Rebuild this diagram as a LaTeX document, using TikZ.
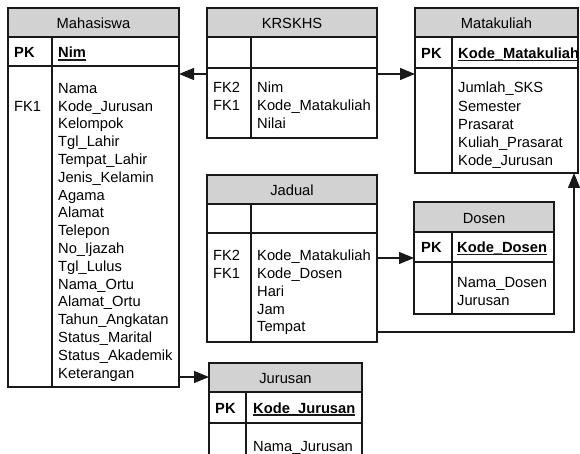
\documentclass[tikz,border=0pt]{standalone}
\usepackage{fontspec}
\setmainfont{Liberation Sans}
\usetikzlibrary{arrows.meta,fit}

\definecolor{hdrgray}{RGB}{210,210,210}
\definecolor{ink}{RGB}{25,25,25}

\newcommand\tablefont{\fontsize{14.7}{17.8}\selectfont}
% bold key name with an underline sitting just under the baseline
\newcommand\keyname[1]{\setbox0\hbox{\bfseries #1}\rlap{\color{ink}\vrule height -1.4pt depth 2.7pt width \wd0}\box0}

\tikzset{
  frame/.style={draw=ink, line width=1.2pt},
  hdr/.style={frame, fill=hdrgray},
  title/.style={anchor=base, inner sep=0pt, font=\tablefont},
  fld/.style={anchor=base west, inner sep=0pt, font=\tablefont},
  tblarea/.style={inner sep=0pt, outer sep=0pt},
  conn/.style={draw=ink, line width=1.2pt, -{Triangle[length=15pt,width=12pt]}},
}

% #1 name, #2 left, #3 right, #4 divider x, #5 top, #6 header bottom,
% #7 key row bottom, #8 bottom, #9 title
\newcommand\ertable[9]{%
  \node[tblarea, fit={(#2,#5) (#3,#8)}] (#1) {};
  \draw[frame, fill=white] (#2,#6) rectangle (#3,#8);
  \draw[hdr] (#2,#5) rectangle (#3,#6);
  \draw[frame] (#2,#7) -- (#3,#7);
  \draw[frame] (#4,#6) -- (#4,#8);
  \node[title] (#1-title) at ({(#2+#3)/2},{(#5+#6)/2+6.3}) {#9};
}

% #1 prefix, #2 x, #3 first baseline, #4 line step, #5 list of lines
\newcommand\fieldlist[5]{%
  \foreach \t [count=\i] in {#5}
    \node[fld] (#1-\i) at (#2,{#3+(\i-1)*#4}) {\t};
}

\begin{document}
\begin{tikzpicture}[x=1pt, y=-1pt]
\useasboundingbox (0,0) rectangle (580,454);

% ---------- Mahasiswa ----------
\ertable{maha}{8}{179}{52}{8}{37}{66}{387}{Mahasiswa}
\node[fld] (maha-pk) at (14,58) {\bfseries PK};
\node[fld] (maha-key) at (58,58) {\keyname{Nim}};
\node[fld] (maha-fk1) at (14,{93.3+17.8}) {FK1};
\fieldlist{maha-f}{58}{93.3}{17.8}{Nama, Kode\_Jurusan, Kelompok, Tgl\_Lahir,
  Tempat\_Lahir, Jenis\_Kelamin, Agama, Alamat, Telepon, No\_Ijazah,
  Tgl\_Lulus, Nama\_Ortu, Alamat\_Ortu, Tahun\_Angkatan, Status\_Marital,
  Status\_Akademik, Keterangan}

% ---------- KRSKHS ----------
\ertable{krs}{207}{377}{251}{8}{37}{68}{138}{KRSKHS}
\node[fld] (krs-fk2) at (213,93) {FK2};
\node[fld] (krs-fk1) at (213,{93+17.8}) {FK1};
\fieldlist{krs-f}{257}{93}{17.8}{Nim, Kode\_Matakuliah, Nilai}

% ---------- Matakuliah ----------
\ertable{mata}{415}{578}{452}{8}{37}{68}{173}{Matakuliah}
\node[fld] (mata-pk) at (421,58.5) {\bfseries PK};
\node[fld] (mata-key) at (458,58.5) {\keyname{Kode\_Matakuliah}};
\fieldlist{mata-f}{458}{93}{18.2}{Jumlah\_SKS, Semester, Prasarat,
  Kuliah\_Prasarat, Kode\_Jurusan}

% ---------- Jadual ----------
\ertable{jad}{207}{377}{251}{175}{204}{233}{342}{Jadual}
\node[fld] (jad-fk2) at (213,260.7) {FK2};
\node[fld] (jad-fk1) at (213,{260.7+17.8}) {FK1};
\fieldlist{jad-f}{257}{260.7}{17.8}{Kode\_Matakuliah, Kode\_Dosen, Hari, Jam, Tempat}

% ---------- Dosen ----------
\ertable{dosen}{414}{554}{452}{202}{232}{262}{314}{Dosen}
\node[fld] (dosen-pk) at (421,252.5) {\bfseries PK};
\node[fld] (dosen-key) at (457,252.5) {\keyname{Kode\_Dosen}};
\fieldlist{dosen-f}{457}{287.3}{17.8}{Nama\_Dosen, Jurusan}

% ---------- Jurusan ----------
\ertable{jur}{209}{362}{246}{363}{392}{423}{480}{Jurusan}
\node[fld] (jur-pk) at (215,413) {\bfseries PK};
\node[fld] (jur-key) at (253,413) {\keyname{Kode\_Jurusan}};
\fieldlist{jur-f}{253}{451}{17.8}{Nama\_Jurusan}

% ---------- relationships ----------
\coordinate (bend) at (574,332);
\draw[conn] (krs.west |- 0,74) -- (maha.east |- 0,74);
\draw[conn] (krs.east |- 0,74) -- (mata.west |- 0,74);
\draw[conn] (jad.east |- 0,258) -- (dosen.west |- 0,258);
\draw[conn] (jad.east |- bend) -- (bend) -- (mata.south -| bend);
\draw[conn] (maha.east |- 0,377) -- (jur.west |- 0,377);
\end{tikzpicture}
\end{document}
